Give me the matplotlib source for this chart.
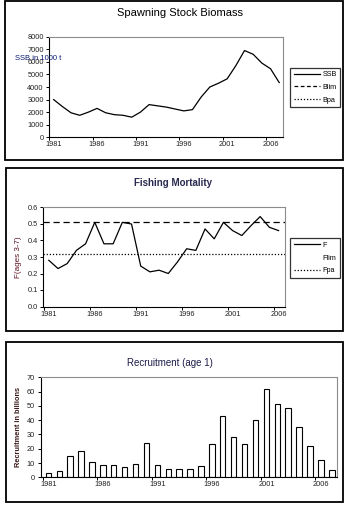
import matplotlib
matplotlib.use('Agg')
import matplotlib.pyplot as plt
from matplotlib.lines import Line2D
from matplotlib.patches import Rectangle

plt.rcParams['font.family'] = ['Liberation Sans', 'DejaVu Sans']

# data
years_ssb = list(range(1981, 2008))
ssb = [3000, 2450, 1950, 1750, 2000, 2300, 1950, 1800, 1750, 1600, 2000, 2600, 2500,
       2400, 2250, 2100, 2200, 3200, 4000, 4300, 4650, 5700, 6900, 6600, 5900, 5450, 4350]

years_f = list(range(1981, 2007))
f_values = [0.28, 0.23, 0.26, 0.34, 0.38, 0.51, 0.38, 0.38, 0.51, 0.50, 0.245, 0.21, 0.22,
            0.20, 0.27, 0.35, 0.34, 0.47, 0.41, 0.51, 0.46, 0.43, 0.49, 0.545, 0.48, 0.46]
f_lim = 0.51
f_pa = 0.32

years_rec = list(range(1981, 2008))
recruitment = [3, 4.5, 15, 18.5, 11, 8.5, 8.5, 7, 9.5, 24, 8.5, 5.5, 5.5, 5.5, 8, 23, 43,
               28.5, 23.5, 40, 61.5, 51.5, 48.5, 35.5, 22, 12, 5]

tick_years = [1981, 1986, 1991, 1996, 2001, 2006]

W, H = 350.0, 505.0
fig = plt.figure(figsize=(3.5, 5.05), dpi=100)


def px_axes(left, top, right, bottom):
    return fig.add_axes([left / W, 1 - bottom / H, (right - left) / W, (bottom - top) / H])


def panel_box(left, top, right, bottom):
    fig.patches.append(Rectangle((left / W, 1 - bottom / H), (right - left) / W, (bottom - top) / H,
                                 transform=fig.transFigure, fill=False, edgecolor='black', lw=1.3))


def style_axes(ax, xlim):
    ax.set_xlim(*xlim)
    for s in ['top', 'right']:
        ax.spines[s].set_color('#8c8c8c')
        ax.spines[s].set_linewidth(0.8)
    for s in ['left', 'bottom']:
        ax.spines[s].set_color('black')
        ax.spines[s].set_linewidth(0.8)
    ax.set_xticks(tick_years)
    ax.set_xticklabels([str(y) for y in tick_years])
    ax.set_xticks([y - 0.5 for y in tick_years] + [tick_years[0] - 0.5], minor=True)
    ax.tick_params(axis='x', which='major', length=0, labelsize=5.3, pad=3, labelcolor='#222222')
    ax.tick_params(axis='x', which='minor', length=2.5, width=0.7)
    ax.tick_params(axis='y', length=2.5, width=0.7, labelsize=5.3, pad=1.5, labelcolor='#222222')


def legend_box(ax, handles, labels, top_px):
    leg = ax.legend(handles, labels, loc='upper left', bbox_to_anchor=(290 / W, 1 - top_px / H),
                    bbox_transform=fig.transFigure, borderaxespad=0, frameon=True, fancybox=False,
                    fontsize=5.2, handlelength=3.7, handletextpad=0.3, labelspacing=0.8,
                    borderpad=0.5)
    leg.get_frame().set_edgecolor('black')
    leg.get_frame().set_linewidth(0.9)
    return leg


# panel 1: spawning stock biomass
panel_box(5, 1, 343, 160)
ax1 = px_axes(49.3, 36.7, 282.7, 137.3)
ax1.plot(years_ssb, ssb, color='black', lw=0.9)
ax1.set_ylim(0, 8000)
ax1.set_yticks(range(0, 8001, 1000))
style_axes(ax1, (1980.55, 2007.4))
fig.text(180 / W, 1 - 13 / H, 'Spawning Stock Biomass', ha='center', va='center', fontsize=8)
# label sits over the tick labels, as in the original
fig.text(15 / W, 1 - 59 / H, 'SSB in 1000 t', ha='left', va='center', fontsize=5.5, color='#0a1a70')
h1 = [Line2D([], [], color='black', lw=0.9),
      Line2D([], [], color='black', lw=0.9, ls=(0, (3, 2))),
      Line2D([], [], color='black', lw=0.9, ls=(0, (1, 1.5)))]
legend_box(ax1, h1, ['SSB', 'Blim', 'Bpa'], 67.5)

# panel 2: fishing mortality
panel_box(6, 168, 343, 331)
ax2 = px_axes(43.3, 207.5, 285, 306.5)
ax2.plot(years_f, f_values, color='black', lw=0.9)
ax2.axhline(f_lim, color='black', lw=0.9, ls=(0, (5, 3)))
ax2.axhline(f_pa, color='black', lw=0.9, ls=(0, (1, 1.5)))
ax2.set_ylim(0, 0.6)
ax2.set_yticks([0.0, 0.1, 0.2, 0.3, 0.4, 0.5, 0.6])
ax2.set_yticklabels(['0.0', '0.1', '0.2', '0.3', '0.4', '0.5', '0.6'])
style_axes(ax2, (1980.4, 2006.7))
fig.text(173 / W, 1 - 183 / H, 'Fishing Mortality', ha='center', va='center', fontsize=7,
         fontweight='bold', color='#2a2a50')
fig.text(18 / W, 1 - 257 / H, 'F(ages 3-7)', ha='center', va='center', rotation=90,
         fontsize=5.8, color='#5c1020')
h2 = [Line2D([], [], color='black', lw=0.9),
      Line2D([], [], color='white', lw=0.9),
      Line2D([], [], color='black', lw=0.9, ls=(0, (1, 1.5)))]
legend_box(ax2, h2, ['F', 'Flim', 'Fpa'], 238)

# panel 3: recruitment
panel_box(6, 342, 343, 502)
ax3 = px_axes(40.7, 377.3, 336.7, 477.3)
ax3.bar(years_rec, recruitment, width=0.5, color='white', edgecolor='black', linewidth=0.8)
ax3.set_ylim(0, 70)
ax3.set_yticks(range(0, 71, 10))
style_axes(ax3, (1980.3, 2007.45))
fig.text(170 / W, 1 - 363 / H, 'Recruitment (age 1)', ha='center', va='center', fontsize=7,
         color='#1c1c48')
fig.text(19 / W, 1 - 427 / H, 'Recruitment in billions', ha='center', va='center', rotation=90,
         fontsize=5.3, fontweight='bold', color='#3a1a1a')

fig.savefig('out.png', dpi=100)
